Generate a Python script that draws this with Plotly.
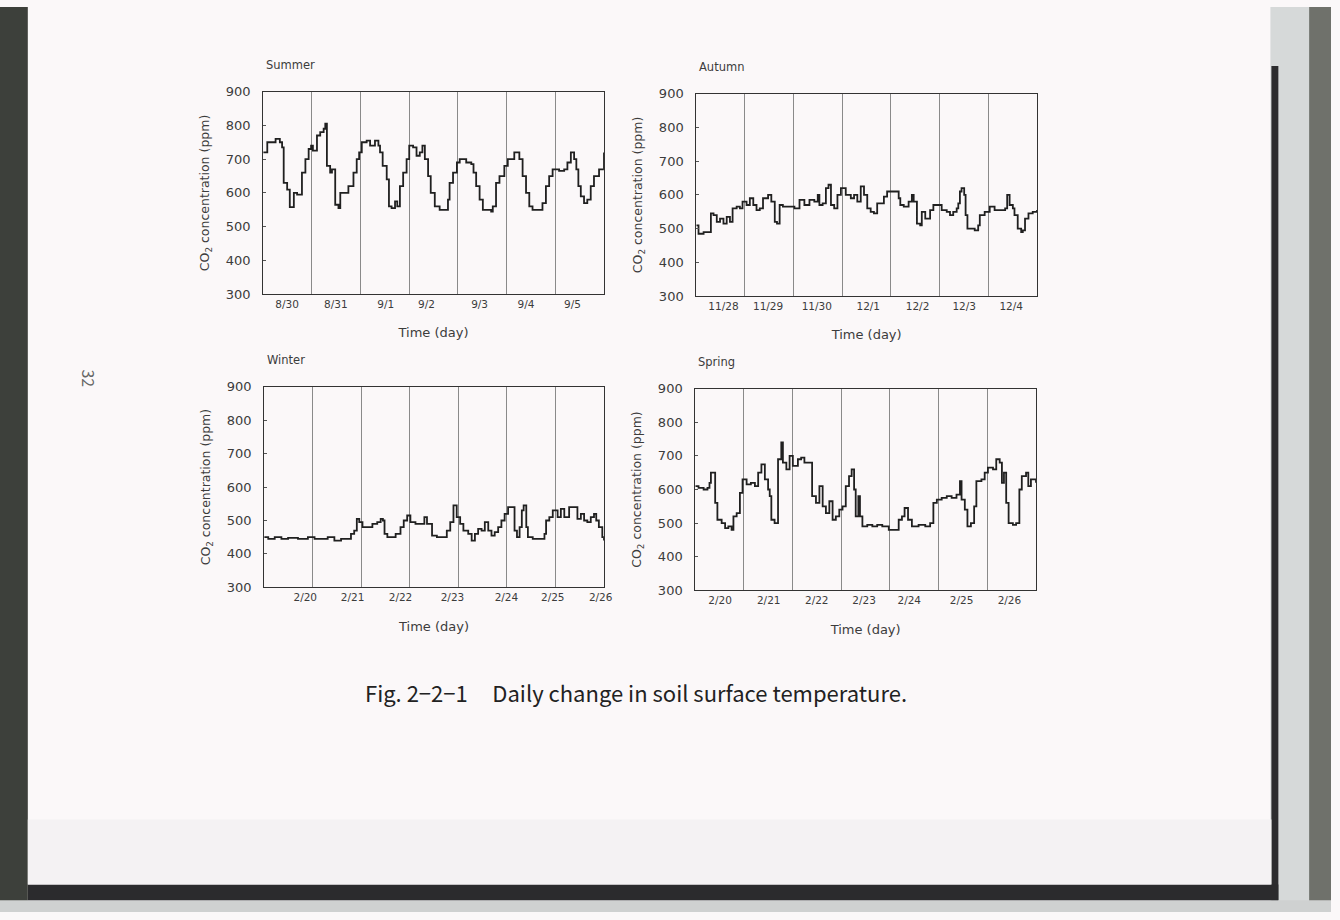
import plotly.graph_objects as go

# ---------------- data (time in hours from start of each 7-day window, CO2 in ppm) ----------------
summer_t = [0, 2.0, 6.1, 8.2, 9.3, 10.1, 11.8, 13.1, 15.1, 16.7, 19.1, 20.8, 22.4, 23.6, 24.5, 26.5, 28.1,
            29.8, 30.6, 31.4, 33.0, 33.9, 35.5, 37.1, 38.0, 40.4, 42.0, 44.5, 46.1, 47.3, 48.6, 51.0, 52.7,
            55.1, 56.8, 57.6, 58.9, 60.9, 62.0, 63.3, 65.0, 66.1, 67.4, 69.0, 70.7, 72.0, 73.9, 75.6, 77.2,
            78.5, 79.7, 81.3, 82.6, 84.6, 87.0, 89.5, 91.1, 91.9, 93.6, 95.5, 96.9, 100.1, 102.6, 103.7,
            105.0, 106.7, 108.3, 112.4, 113.2, 114.8, 116.5, 118.9, 120.6, 123.8, 126.3, 127.9, 129.6,
            131.2, 132.8, 136.1, 137.7, 139.4, 141.0, 142.7, 145.9, 148.4, 150.0, 151.7, 153.3, 154.4,
            155.4, 156.6, 158.2, 159.8, 161.5, 163.1, 165.6, 168.0]
summer_v = [720, 750, 760, 750, 735, 630, 610, 558, 600, 595, 660, 700, 730, 740, 725, 770, 780,
            790, 805, 680, 660, 670, 565, 555, 600, 600, 620, 660, 700, 720, 750, 755, 740,
            755, 740, 720, 680, 640, 560, 555, 575, 560, 620, 660, 700, 740, 735, 710, 720,
            740, 700, 650, 600, 560, 550, 550, 580, 630, 660, 690, 700, 690, 685, 660,
            620, 580, 550, 545, 560, 630, 650, 680, 700, 720, 700, 650, 600,
            560, 550, 550, 570, 620, 650, 670, 665, 670, 690, 720, 700, 670,
            620, 590, 570, 580, 620, 650, 670, 720]

autumn_t = [0, 1.1, 3.6, 6.0, 7.2, 8.5, 10.1, 11.7, 13.4, 15.0, 16.6, 17.9, 19.9, 21.5, 22.8, 24.8, 26.4,
            28.1, 29.7, 31.3, 32.9, 35.4, 37.0, 38.7, 39.8, 41.1, 42.7, 46.0, 48.4, 50.9, 53.3, 55.8,
            58.2, 59.9, 60.7, 62.3, 63.9, 65.2, 66.4, 68.0, 69.6, 71.3, 73.7, 76.2, 77.8, 79.4, 81.1,
            82.7, 84.3, 86.0, 87.6, 89.2, 90.8, 92.5, 94.1, 96.6, 99.0, 99.8, 100.6, 102.3, 104.7,
            106.3, 107.2, 108.8, 110.4, 111.2, 112.9, 115.3, 116.9, 119.4, 121.0, 123.5, 125.1, 126.7,
            128.4, 129.2, 130.0, 130.8, 132.1, 132.8, 133.7, 137.3, 139.0, 139.8, 142.2, 144.7, 147.1,
            150.4, 152.3, 153.3, 154.5, 156.1, 156.9, 158.5, 160.2, 161.0, 162.1, 163.8, 165.9, 168.0]
autumn_v = [510, 485, 490, 490, 545, 540, 520, 530, 515, 535, 520, 560, 565, 560, 580, 570, 590,
            570, 555, 560, 590, 600, 580, 520, 515, 570, 565, 565, 560, 585, 570, 585,
            580, 600, 570, 575, 620, 630, 570, 560, 600, 620, 600, 590, 600, 580, 625,
            600, 560, 550, 545, 575, 575, 595, 610, 610, 610, 590, 570, 565, 580,
            600, 580, 515, 510, 550, 530, 555, 570, 570, 555, 550, 540, 550,
            560, 575, 610, 620, 600, 540, 500, 495, 510, 540, 550, 565, 555,
            555, 560, 600, 570, 560, 540, 500, 490, 495, 530, 545, 550, 555]

winter_t = [0, 2.0, 5.2, 8.5, 11.8, 16.7, 21.6, 24.9, 28.1, 31.4, 34.7, 38.0, 41.2, 42.9, 44.5, 45.8,
            47.0, 48.6, 51.0, 53.5, 55.9, 57.6, 58.7, 59.5, 60.9, 63.3, 65.0, 67.4, 69.0, 70.7, 72.3,
            74.8, 77.2, 79.2, 80.5, 83.0, 85.4, 88.7, 90.3, 92.0, 93.6, 95.2, 96.9, 98.5, 100.9, 102.6,
            104.2, 105.8, 107.5, 109.1, 110.8, 112.4, 114.0, 115.7, 117.3, 118.9, 120.6, 122.2, 123.8,
            125.0, 126.3, 127.4, 128.3, 129.6, 130.4, 132.8, 136.9, 138.6, 139.4, 141.0, 142.7, 145.1,
            146.7, 148.4, 150.8, 153.3, 154.9, 156.6, 158.2, 159.8, 161.5, 163.1, 164.2, 165.5, 167.2, 168.0]
winter_v = [450, 445, 450, 445, 448, 445, 450, 445, 445, 450, 440, 445, 445, 460, 470, 505,
            495, 480, 480, 490, 495, 505, 500, 460, 450, 450, 460, 480, 500, 515, 495,
            490, 490, 510, 490, 455, 450, 450, 470, 495, 545, 510, 490, 470, 460, 440,
            460, 475, 470, 495, 470, 455, 465, 480, 500, 520, 540, 540, 470,
            450, 480, 530, 545, 480, 450, 445, 445, 460, 500, 510, 530, 510,
            535, 510, 540, 540, 505, 520, 500, 495, 510, 520, 500, 480, 450, 440]

spring_t = [0, 1.6, 4.1, 6.0, 7.0, 7.7, 9.0, 9.8, 10.9, 13.0, 14.7, 16.3, 17.9, 18.8, 20.4, 22.0, 23.3,
            25.3, 27.4, 29.4, 31.0, 32.6, 34.3, 35.9, 36.7, 37.5, 39.1, 40.8, 42.4, 43.2, 44.9, 46.5,
            48.1, 50.6, 52.2, 53.8, 56.0, 57.6, 59.5, 61.2, 62.8, 64.4, 66.1, 67.7, 69.3, 71.0, 72.6,
            74.2, 75.8, 77.1, 78.3, 79.1, 80.4, 81.2, 82.4, 84.8, 87.3, 89.7, 92.2, 95.4, 98.7, 100.3,
            101.9, 103.2, 104.9, 106.8, 110.1, 113.4, 115.8, 117.4, 119.1, 121.5, 124.0, 126.4, 128.8,
            130.5, 131.3, 132.9, 134.2, 135.9, 137.5, 138.6, 141.1, 142.7, 144.3, 146.8, 148.4, 150.1,
            151.2, 152.2, 153.3, 154.5, 156.6, 158.2, 159.8, 161.0, 163.1, 164.2, 165.5, 168.0]
spring_v = [610, 605, 600, 605, 620, 650, 650, 560, 510, 500, 485, 490, 480, 520, 530, 590, 630,
            615, 620, 610, 650, 675, 630, 600, 580, 510, 500, 690, 740, 680, 660, 700,
            670, 690, 695, 680, 680, 580, 560, 610, 550, 530, 565, 510, 520, 540, 550,
            610, 640, 660, 600, 520, 580, 520, 490, 495, 490, 495, 490, 480, 480, 510,
            520, 545, 510, 490, 495, 490, 500, 560, 570, 575, 580, 575, 585,
            625, 570, 540, 490, 500, 550, 625, 630, 650, 665, 660, 690, 680,
            620, 650, 560, 500, 495, 500, 600, 640, 650, 610, 630, 620]

summer_ticks = [11.8, 35.8, 60.4, 80.5, 106.7, 129.6, 152.5]
summer_labels = ["8/30", "8/31", "9/1", "9/2", "9/3", "9/4", "9/5"]
autumn_ticks = [13.4, 35.4, 59.4, 84.8, 109.1, 132.1, 155.3]
autumn_labels = ["11/28", "11/29", "11/30", "12/1", "12/2", "12/3", "12/4"]
winter_ticks = [20.3, 43.7, 67.4, 93.1, 119.8, 142.7, 166.4]
winter_labels = ["2/20", "2/21", "2/22", "2/23", "2/24", "2/25", "2/26"]
spring_ticks = [12.2, 36.2, 59.9, 83.2, 105.5, 131.3, 154.9]
spring_labels = ["2/20", "2/21", "2/22", "2/23", "2/24", "2/25", "2/26"]
day_bounds = [24, 48, 72, 96, 120, 144]

panel_titles = ["Summer", "Autumn", "Winter", "Spring"]
y_title = "CO<sub>2</sub> concentration (ppm)"
x_title = "Time (day)"
caption = "Fig. 2\u22122\u22121\u00a0\u00a0\u00a0\u00a0\u00a0Daily change in soil surface temperature."

# ---------------- figure ----------------
W, H = 1340, 920
FONT = "DejaVu Sans"
CAP_FONT = "Noto Sans CJK JP"
PAGE = "#fbf8f9"
INK = "#3c3c3c"


def fx(px):
    return px / W


def fy(py):
    return 1 - py / H


panels = [
    dict(t=summer_t, v=summer_v, ticks=summer_ticks, labels=summer_labels, px=(265, 608), py=(86, 292)),
    dict(t=autumn_t, v=autumn_v, ticks=autumn_ticks, labels=autumn_labels, px=(701, 1044), py=(88, 294)),
    dict(t=winter_t, v=winter_v, ticks=winter_ticks, labels=winter_labels, px=(266, 608), py=(386, 590)),
    dict(t=spring_t, v=spring_v, ticks=spring_ticks, labels=spring_labels, px=(700, 1043), py=(388, 593)),
]

fig = go.Figure()
layout = dict(
    width=W, height=H, autosize=False, margin=dict(l=0, r=0, t=0, b=0),
    paper_bgcolor=PAGE, plot_bgcolor=PAGE, showlegend=False,
    font=dict(family=FONT, color=INK),
)
annotations = []
for i, p in enumerate(panels):
    n = "" if i == 0 else str(i + 1)
    fig.add_trace(go.Scatter(x=p["t"], y=p["v"], mode="lines", xaxis="x" + n, yaxis="y" + n,
                             line=dict(color="#202020", width=1.8, shape="hv"), hoverinfo="skip"))
    x0, x1 = p["px"]
    y0, y1 = p["py"]
    layout["xaxis" + n] = dict(
        domain=[fx(x0), fx(x1)], anchor="y" + n, range=[0, 168],
        tickmode="array", tickvals=p["ticks"], ticktext=p["labels"], ticks="",
        tickfont=dict(size=10.5, color=INK, family=FONT), showgrid=False, zeroline=False,
        showline=True, linecolor="#333", linewidth=1, mirror=True,
        minor=dict(tickmode="array", tickvals=day_bounds, showgrid=True, gridcolor="#8a8a8a", gridwidth=1, ticks=""),
        title=dict(text=x_title, font=dict(size=13, color=INK, family=FONT), standoff=19),
        fixedrange=True,
    )
    layout["yaxis" + n] = dict(
        domain=[fy(y1), fy(y0)], anchor="x" + n, range=[300, 900],
        tickmode="linear", tick0=300, dtick=100, ticks="inside", ticklen=3, tickcolor="#555",
        ticklabelstandoff=9,
        tickfont=dict(size=13, color=INK, family=FONT), showgrid=False, zeroline=False,
        showline=True, linecolor="#333", linewidth=1, mirror=True,
        title=dict(text=y_title, font=dict(size=12.5, color=INK, family=FONT), standoff=13),
        fixedrange=True,
    )
    annotations.append(dict(text=panel_titles[i], xref="paper", yref="paper",
                            x=fx(x0 + 1), y=fy(y0 - 27), xanchor="left", yanchor="middle",
                            showarrow=False, font=dict(size=11.5, color=INK, family=FONT)))

annotations.append(dict(text=caption, xref="paper", yref="paper", x=fx(640), y=fy(696),
                        xanchor="center", yanchor="middle", showarrow=False,
                        font=dict(size=22, color="#222", family=CAP_FONT)))
annotations.append(dict(text="32", xref="paper", yref="paper", x=fx(90), y=fy(378),
                        textangle=90, xanchor="center", yanchor="middle", showarrow=False,
                        font=dict(size=16, color="#666", family=CAP_FONT)))
layout["annotations"] = annotations


def rect(x0, x1, y0, y1, color):
    # x0/x1/y0/y1 in page pixels (y measured from the top)
    return dict(type="rect", xref="paper", yref="paper", x0=fx(x0), x1=fx(x1), y0=fy(y1), y1=fy(y0),
                fillcolor=color, line=dict(width=0), layer="below")


# book page edges (decoration)
layout["shapes"] = [
    rect(0, 28, 0, 920, "#3d403b"),
    rect(1279, 1340, 0, 920, "#d6d9d9"),
    rect(1318, 1340, 0, 920, "#6f716b"),
    rect(1280, 1287, 60, 908, "#2c2c2e"),
    rect(0, 1340, 908, 920, "#cfd1d1"),
    rect(28, 1287, 892, 908, "#2b2b2d"),
    rect(28, 1280, 826, 892, "#f4f2f3"),
]

fig.update_layout(**layout)
fig.write_html("out.html", config={"responsive": False, "displayModeBar": False},
               post_script="document.body.style.margin='0';")
